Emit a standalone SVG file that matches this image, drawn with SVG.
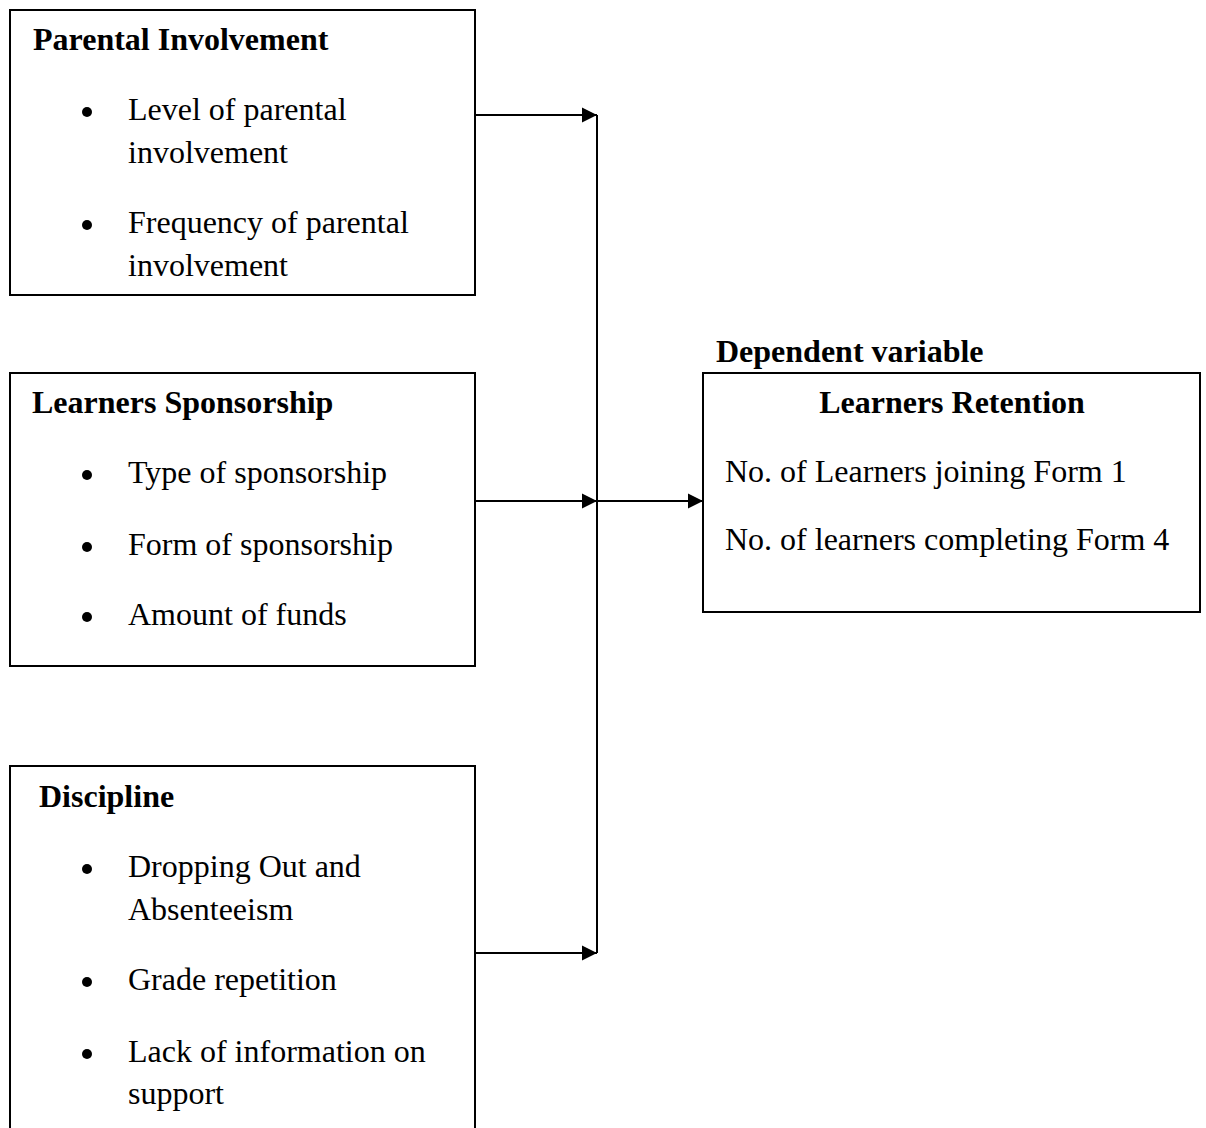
<svg xmlns="http://www.w3.org/2000/svg" width="1206" height="1128" viewBox="0 0 1206 1128">
<style>
.box{fill:#fff;stroke:#000;stroke-width:2}
.h{font-family:"Liberation Serif","Times New Roman",serif;font-size:32px;font-weight:bold;fill:#000}
.t{font-family:"Liberation Serif","Times New Roman",serif;font-size:32px;fill:#000}
.c{stroke:#000;stroke-width:2;fill:none}
</style>
<defs>
<marker id="arr" markerUnits="userSpaceOnUse" markerWidth="16" markerHeight="16" refX="15" refY="8" orient="auto">
<path d="M0,0.5 L15,8 L0,15.5 Z" fill="#000"/>
</marker>
</defs>
<rect width="1206" height="1128" fill="#fff"/>
<g id="parental">
<rect class="box" x="10" y="10" width="465" height="285"/>
<text class="h" x="33" y="50">Parental Involvement</text>
<circle cx="87" cy="112" r="5"/>
<text class="t" x="128" y="120">Level of parental</text>
<text class="t" x="128" y="163">involvement</text>
<circle cx="87" cy="225" r="5"/>
<text class="t" x="128" y="233">Frequency of parental</text>
<text class="t" x="128" y="276">involvement</text>
</g>
<g id="sponsorship">
<rect class="box" x="10" y="373" width="465" height="293"/>
<text class="h" x="32" y="413">Learners Sponsorship</text>
<circle cx="87" cy="475" r="5"/>
<text class="t" x="128" y="483">Type of sponsorship</text>
<circle cx="87" cy="547" r="5"/>
<text class="t" x="128" y="555">Form of sponsorship</text>
<circle cx="87" cy="617" r="5"/>
<text class="t" x="128" y="625">Amount of funds</text>
</g>
<g id="discipline">
<rect class="box" x="10" y="766" width="465" height="380"/>
<text class="h" x="39" y="807">Discipline</text>
<circle cx="87" cy="869" r="5"/>
<text class="t" x="128" y="877">Dropping Out and</text>
<text class="t" x="128" y="920">Absenteeism</text>
<circle cx="87" cy="982" r="5"/>
<text class="t" x="128" y="990">Grade repetition</text>
<circle cx="87" cy="1054" r="5"/>
<text class="t" x="128" y="1062">Lack of information on</text>
<text class="t" x="128" y="1104">support</text>
</g>
<g id="retention">
<text class="h" x="716" y="362">Dependent variable</text>
<rect class="box" x="703" y="373" width="497" height="239"/>
<text class="h" x="952" y="413" text-anchor="middle">Learners Retention</text>
<text class="t" x="725" y="482">No. of Learners joining Form 1</text>
<text class="t" x="725" y="550">No. of learners completing Form 4</text>
</g>
<g id="connectors">
<line class="c" x1="597" y1="115" x2="597" y2="953"/>
<line class="c" x1="475" y1="115" x2="597" y2="115" marker-end="url(#arr)"/>
<line class="c" x1="475" y1="501" x2="597" y2="501" marker-end="url(#arr)"/>
<line class="c" x1="475" y1="953" x2="597" y2="953" marker-end="url(#arr)"/>
<line class="c" x1="597" y1="501" x2="703" y2="501" marker-end="url(#arr)"/>
</g>
</svg>
